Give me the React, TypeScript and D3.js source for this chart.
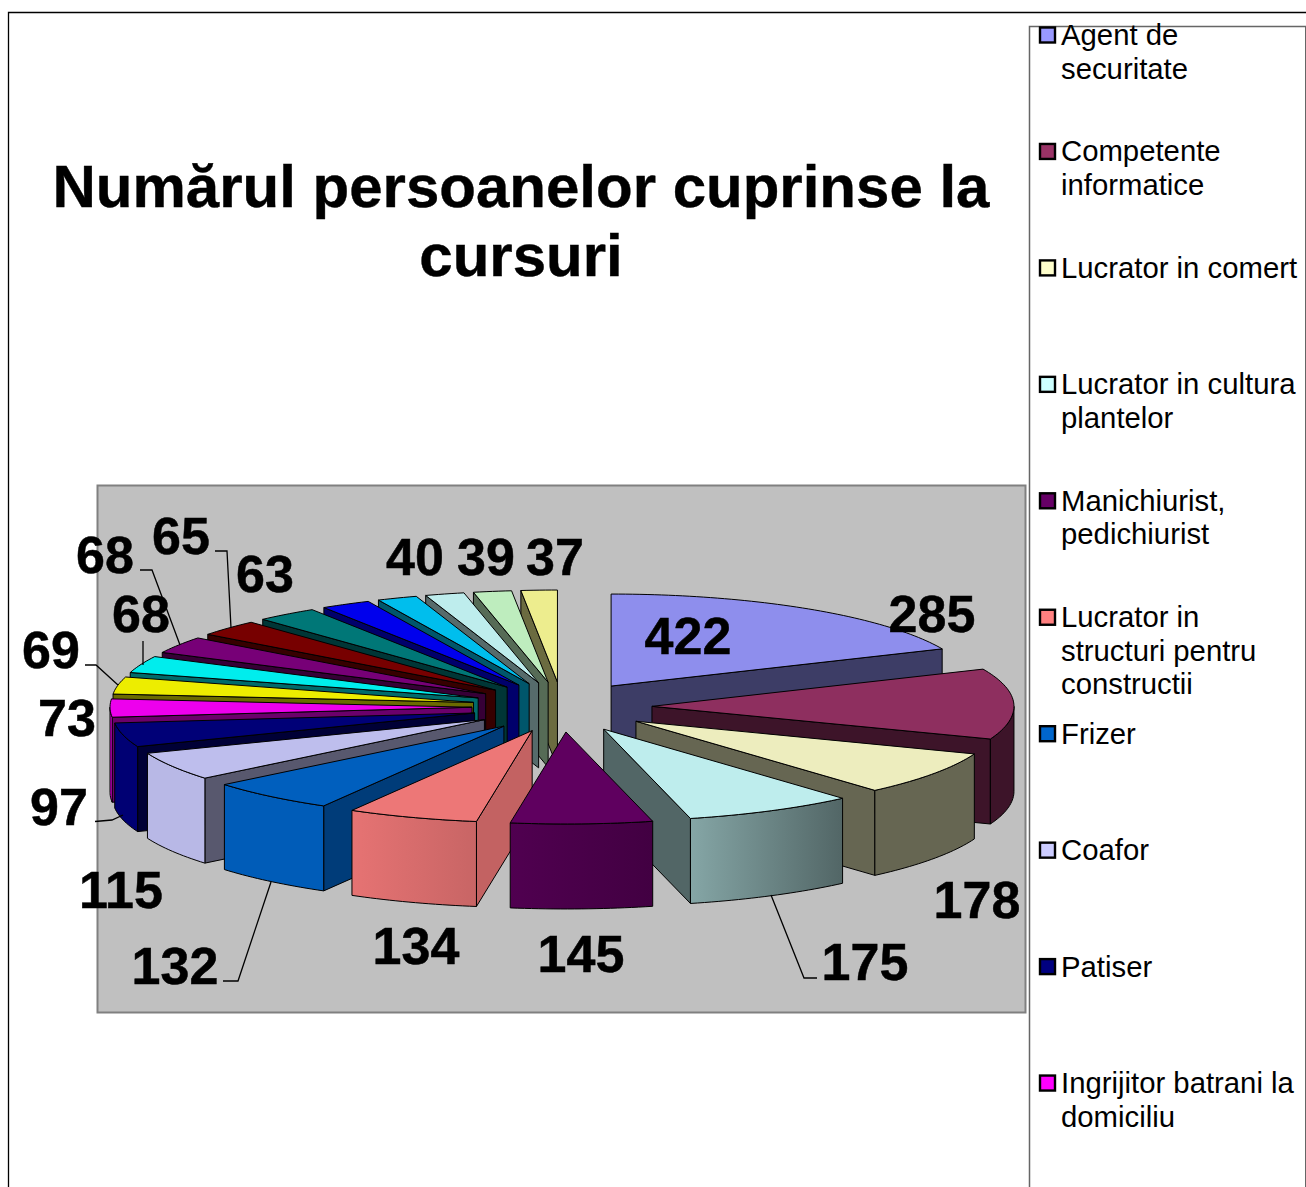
import React from 'react';
import * as d3 from 'd3';

const FONT = '"Liberation Sans", Arial, sans-serif';
const titleLines = ['Numărul persoanelor cuprinse la', 'cursuri'];
const values = [422, 285, 178, 175, 145, 134, 132, 115, 97, 73, 69, 68, 68, 65, 63, 51, 41, 40, 39, 37];
const colors = ['#9999FF', '#993366', '#FFFFCC', '#CCFFFF', '#660066', '#FF8080', '#0066CC', '#CCCCFF', '#000080', '#FF00FF', '#FFFF00', '#00FFFF', '#800080', '#800000', '#008080', '#0000FF', '#00CCFF', '#CCFFFF', '#CCFFCC', '#FFFF99'];
const legendEntries = [
  ['Agent de', 'securitate'],
  ['Competente', 'informatice'],
  ['Lucrator in comert'],
  ['Lucrator in cultura', 'plantelor'],
  ['Manichiurist,', 'pedichiurist'],
  ['Lucrator in', 'structuri pentru', 'constructii'],
  ['Frizer'],
  ['Coafor'],
  ['Patiser'],
  ['Ingrijitor batrani la', 'domiciliu'],
];
const labelTexts = ['422', '285', '178', '175', '145', '134', '132', '115', '97', '73', '69', '68', '68', '65', '63', '40', '39', '37'];
const labelX = [688, 932, 977, 865, 581, 416, 175, 121, 59, 67, 51, 141, 105, 181, 265, 415, 486, 555];
const labelY = [654, 632, 918, 980, 972, 964, 984, 908, 825, 736, 668, 632, 573, 554, 592, 575, 575, 575];
const leaderPaths = [
  [[223, 981], [238, 981], [271, 882]],
  [[817, 978], [804, 978], [771, 895]],
  [[95, 821.5], [112, 820], [123, 815]],
  [[85, 665], [96, 665], [118, 685]],
  [[143, 641], [143, 665]],
  [[140, 570], [152, 570], [180, 645]],
  [[215, 551], [227, 551], [231, 628]],
];
// brightness of the shaded sides, by angle in degrees
const outerAngles = [90, 140, 164.9, 165, 188, 188.01, 209, 209.01, 270];
const outerShade = [0.4, 0.4, 0.56, 0.65, 0.65, 0.78, 0.86, 0.9, 0.9];
const wallAngles = [0, 180, 188, 209, 230, 250, 360];
const wallShade = [0.4, 0.4, 0.77, 0.6, 0.43, 0.42, 0.42];

const CX = 562, CY = 707, RX = 362, RY = 92, EX = 90, EY = 25, DEPTH = 85;
const TOP_SHADE = 0.93;
const TAU = Math.PI * 2;

const shade = (c: string, k: number) => {
  const r = d3.rgb(c);
  return d3.rgb(r.r * k, r.g * k, r.b * k).formatHex();
};
const outerScale = d3.scaleLinear().domain(outerAngles).range(outerShade).clamp(true);
const wallScale = d3.scaleLinear().domain(wallAngles).range(wallShade).clamp(true);
const lineGen = d3.line<number[]>().x(d => d[0]).y(d => d[1]);
const closed = (pts: number[][]) => lineGen(pts) + 'Z';

export default function App() {
  const arcs = d3.pie<number>().sort(null).startAngle(0).endAngle(TAU)(values);
  const slices = arcs.map((a, i) => {
    const mid = (a.startAngle + a.endAngle) / 2;
    const ax = CX + Math.sin(mid) * EX;
    const ay = CY - Math.cos(mid) * EY;
    const pt = (t: number, dz = 0) => [ax + Math.sin(t) * RX, ay - Math.cos(t) * RY + dz];
    const n = Math.max(2, Math.ceil((a.endAngle - a.startAngle) / 0.02));
    const samples = d3.range(n + 1).map(k => a.startAngle + (a.endAngle - a.startAngle) * k / n);
    const top = closed([[ax, ay], ...samples.map(t => pt(t))]);
    const wallPath = (t: number) => closed([[ax, ay], pt(t), pt(t, DEPTH), [ax, ay + DEPTH]]);
    const t0 = Math.max(a.startAngle, Math.PI / 2);
    const t1 = Math.min(a.endAngle, Math.PI * 1.5);
    let outer: any = null;
    if (t1 > t0) {
      const m = Math.max(2, Math.ceil((t1 - t0) / 0.02));
      const s = d3.range(m + 1).map(k => t0 + (t1 - t0) * k / m);
      const p1 = pt(t0), p2 = pt(t1);
      const e = 0.8;
      outer = {
        d: closed([...s.map(t => pt(t)), ...s.slice().reverse().map(t => pt(t, DEPTH))]),
        x1: p1[0], x2: p2[0],
        c1: shade(colors[i], outerScale(t0 * 180 / Math.PI + e)),
        c2: shade(colors[i], outerScale(t1 * 180 / Math.PI - e)),
      };
    }
    const walls: { d: string; fill: string }[] = [];
    if (Math.sin(a.startAngle) < -1e-6) walls.push({ d: wallPath(a.startAngle), fill: shade(colors[i], wallScale(a.startAngle * 180 / Math.PI)) });
    if (Math.sin(a.endAngle) > 1e-6) walls.push({ d: wallPath(a.endAngle), fill: shade(colors[i], wallScale(a.endAngle * 180 / Math.PI)) });
    return { i, mid, top, walls, outer, fill: shade(colors[i], TOP_SHADE) };
  });
  const order = slices.slice().sort((p, q) => d3.descending(Math.cos(p.mid), Math.cos(q.mid)));

  return (
    <svg width={1306} height={1187} style={{ position: 'absolute', left: 0, top: 0, display: 'block' }} fontFamily={FONT}>
      <defs>
        {slices.filter(s => s.outer).map(s => (
          <linearGradient key={s.i} id={`g${s.i}`} gradientUnits="userSpaceOnUse" x1={s.outer.x1} x2={s.outer.x2} y1={0} y2={0}>
            <stop offset="0" stopColor={s.outer.c1} />
            <stop offset="1" stopColor={s.outer.c2} />
          </linearGradient>
        ))}
      </defs>
      <rect x={0} y={0} width={1306} height={1187} fill="#fff" />
      <path d="M8.5,1187V12.5H1306" fill="none" stroke="#000" strokeWidth={1.3} />
      <rect x={97.5} y={485.5} width={928} height={527} fill="#C0C0C0" stroke="#808080" strokeWidth={2} />
      <text textAnchor="middle" fontWeight="bold" fontSize={60} fill="#000" stroke="#000" strokeWidth={0.4}>
        {titleLines.map((l, i) => <tspan key={i} x={521} y={207 + i * 69}>{l}</tspan>)}
      </text>
      <g stroke="#000" strokeWidth={1} strokeLinejoin="round">
        {order.map(s => (
          <g key={s.i}>
            {s.walls.map((w, k) => <path key={k} d={w.d} fill={w.fill} />)}
            {s.outer && <path d={s.outer.d} fill={`url(#g${s.i})`} />}
            <path d={s.top} fill={s.fill} />
          </g>
        ))}
      </g>
      <g fill="none" stroke="#000" strokeWidth={1.3}>
        {leaderPaths.map((p, i) => <path key={i} d={lineGen(p as number[][]) as string} />)}
      </g>
      <g fontWeight="bold" fontSize={52} textAnchor="middle" fill="#000" stroke="#000" strokeWidth={0.5}>
        {labelTexts.map((t, i) => <text key={i} x={labelX[i]} y={labelY[i]}>{t}</text>)}
      </g>
      <path d="M1306,26.5H1029.5V1187" fill="none" stroke="#666" strokeWidth={1.5} />
      <path d="M1305.5,26V1187" fill="none" stroke="#666" strokeWidth={1} />
      <g fontSize={29.3} fill="#000">
        {legendEntries.map((lines, i) => {
          const yc = 35 + i * 116.45;
          const rowTop = yc + 10;
          return (
            <g key={i}>
              <rect x={1040} y={yc - 7.5} width={15} height={15} fill={colors[i]} stroke="#000" strokeWidth={2.4} />
              {lines.map((l, k) => <text key={k} x={1061} y={rowTop + k * 33.5}>{l}</text>)}
            </g>
          );
        })}
      </g>
    </svg>
  );
}
